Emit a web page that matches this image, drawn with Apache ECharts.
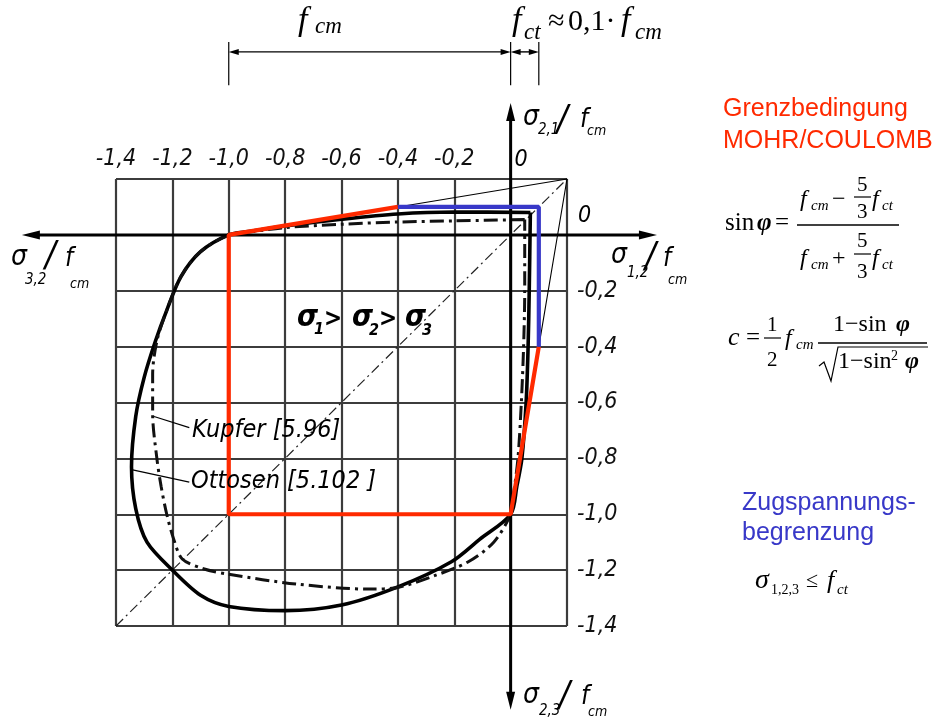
<!DOCTYPE html>
<html>
<head>
<meta charset="utf-8">
<script src="https://cdn.jsdelivr.net/npm/echarts@6/dist/echarts.min.js"></script>
<style>
html, body { margin: 0; padding: 0; background: #fff; }
#c { width: 946px; height: 720px; }
</style>
</head>
<body>
<div id="c"></div>
<script>
// Achsenbereich sigma / fcm
const tickMin = -1.4
const tickMax = 0.2
const tickStep = 0.2

// Ottosen [5.102] (durchgezogen)
const ottosen = [
  [0.07, 0.08], [-0.2, 0.082], [-0.4, 0.075], [-0.6, 0.056], [-0.8, 0.032], [-0.93, 0.012], [-1.0, 0],
  [-1.1, -0.06], [-1.17, -0.15], [-1.22, -0.27], [-1.26, -0.38], [-1.3, -0.51], [-1.33, -0.65], [-1.345, -0.83],
  [-1.33, -0.98], [-1.29, -1.1], [-1.2, -1.2],
  [-1.1, -1.29], [-1.0, -1.33], [-0.8, -1.345], [-0.6, -1.325], [-0.4, -1.26], [-0.21, -1.17], [-0.11, -1.09], [0, -1.0],
  [0.022, -0.9], [0.04, -0.8], [0.055, -0.6], [0.062, -0.4], [0.066, -0.2], [0.07, 0.08]
]
// Kupfer [5.96] (strichpunktiert)
const kupfer = [
  [0.05, 0.055], [-0.2, 0.05], [-0.4, 0.046], [-0.6, 0.038], [-0.8, 0.026], [-0.93, 0.01], [-1.0, 0],
  [-1.1, -0.06], [-1.17, -0.15], [-1.22, -0.27], [-1.255, -0.38], [-1.27, -0.5], [-1.27, -0.64], [-1.255, -0.8],
  [-1.24, -0.9], [-1.22, -1.0], [-1.195, -1.09], [-1.165, -1.16],
  [-1.09, -1.195], [-1.0, -1.215], [-0.76, -1.25], [-0.5, -1.268], [-0.4, -1.262], [-0.27, -1.22], [-0.15, -1.17],
  [-0.06, -1.1], [0, -1.0],
  [0.01, -0.93], [0.026, -0.8], [0.038, -0.6], [0.046, -0.4], [0.05, -0.2], [0.05, 0.055]
]
// Grenzbedingung MOHR/COULOMB und Zugspannungsbegrenzung
const mohrCoulomb = [[-0.4, 0.1], [-1.0, 0], [-1.0, -1.0], [0, -1.0], [0.1, -0.4]]
const zugBegrenzung = [[0.1, -0.4], [0.1, 0.1], [-0.4, 0.1]]
const spitze = [[-0.4, 0.1], [0.2, 0.2], [0.1, -0.4]]
const diagonale = [[-1.4, -1.4], [0.2, 0.2]]
// Hauptachsen mit Pfeilspitzen an beiden Enden: [x1, y1, x2, y2]
const achsen = [
  [-1.734, 0, 0.519, 0],
  [0, 0.472, 0, -1.70]
]
// Bemassung fcm / fct
const bemY = 0.655
const bemassung = [
  [-1.0, bemY, 0, bemY],
  [0, bemY, 0.1, bemY]
]
const bemX = [-1.0, 0, 0.1]
const bemTick = [0.536, 0.69]
// Hinweislinien
const leaderKupfer = [[-1.265, -0.65], [-1.14, -0.69]]
const leaderOttosen = [[-1.345, -0.84], [-1.14, -0.885]]

const SERIF = "'Liberation Serif','Times New Roman',serif"
const SANS = "'Liberation Sans',Arial,sans-serif"
const FIG = "'Liberation Sans Narrow','DejaVu Sans Condensed','DejaVu Sans',sans-serif"
const RED = '#ff2a00'
const BLUE = '#3838c8'

function seg(data, color, width, type, z, smooth) {
  return {
    type: 'line', data, symbol: 'none', showSymbol: false, clip: false, silent: true,
    smooth: smooth || false, z: z || 3, lineStyle: { color, width, type: type || 'solid' }
  }
}
// Doppelpfeil-Linien (auch ausserhalb des Rasters)
function pfeile(rows, width, len, hw) {
  return {
    type: 'custom', silent: true, z: 4, clip: false, data: rows,
    encode: { x: [0, 2], y: [1, 3] },
    renderItem(params, api) {
      const a = api.coord([api.value(0), api.value(1)])
      const b = api.coord([api.value(2), api.value(3)])
      const dx = b[0] - a[0], dy = b[1] - a[1]
      const d = Math.hypot(dx, dy)
      const ux = dx / d, uy = dy / d
      const head = (p, sx, sy) => ({
        type: 'polygon',
        shape: { points: [p, [p[0] + sx * len - sy * hw, p[1] + sy * len + sx * hw], [p[0] + sx * len + sy * hw, p[1] + sy * len - sx * hw]] },
        style: { fill: '#000' }
      })
      return {
        type: 'group',
        children: [
          {
            type: 'line',
            shape: { x1: a[0] + ux * len * 0.6, y1: a[1] + uy * len * 0.6, x2: b[0] - ux * len * 0.6, y2: b[1] - uy * len * 0.6 },
            style: { stroke: '#000', lineWidth: width }
          },
          head(a, ux, uy),
          head(b, -ux, -uy)
        ]
      }
    }
  }
}
// Text nach Grundlinie
function B(x, base, text, size, o) {
  o = o || {}
  return {
    type: 'text', x, y: base - 0.34 * size, silent: true, z: 100,
    style: {
      text, fontSize: size, fontFamily: o.ff || SERIF,
      fontStyle: o.it ? 'italic' : 'normal', fontWeight: o.b ? 'bold' : 'normal',
      fill: o.c || '#000', align: o.al || 'left', verticalAlign: 'middle'
    }
  }
}
function P(points, w) {
  return { type: 'polyline', silent: true, z: 100, shape: { points }, style: { stroke: '#000', lineWidth: w || 1.3, fill: 'none' } }
}
function tickFmt(v) {
  if (v > tickMax - tickStep / 2 || Math.abs(v) < 1e-6) return ''
  return v.toFixed(1).replace('.', ',')
}
const axisCommon = {
  type: 'value', min: tickMin, max: tickMax, interval: tickStep,
  axisLine: { show: false, onZero: false }, axisTick: { show: false },
  splitLine: { show: true, lineStyle: { color: '#3c3c3c', width: 2.2 } },
  axisLabel: { formatter: tickFmt, fontSize: 23, fontStyle: 'italic', fontFamily: FIG, color: '#111' }
}

const chart = echarts.init(document.getElementById('c'), null, { renderer: 'canvas' })

const series = [
  seg(ottosen, '#000', 3.6, 'solid', 3, 0.3),
  seg(kupfer, '#111', 3, [14, 5, 3, 5], 3, 0.3),
  seg(diagonale, '#222', 1.2, [10, 4, 2, 4], 2),
  seg(spitze, '#000', 1.1, 'solid', 2),
  seg(mohrCoulomb, RED, 4.2, 'solid', 6),
  seg(zugBegrenzung, BLUE, 4.2, 'solid', 6),
  pfeile(achsen, 3, 18, 4.5),
  pfeile(bemassung, 1.4, 10, 3),
  seg(leaderKupfer, '#000', 1.2),
  seg(leaderOttosen, '#000', 1.2)
]
bemX.forEach(x => series.push(seg([[x, bemTick[0]], [x, bemTick[1]]], '#000', 1.2)))

const it = { ff: FIG, it: 1 }
const itb = { ff: FIG, it: 1, b: 1 }
const texte = [
  // Bemassung oben
  B(298, 33, 'f', 34, { it: 1 }), B(315, 35, 'cm', 23, { it: 1 }),
  B(512, 33, 'f', 34, { it: 1 }), B(524, 41, 'ct', 23, { it: 1 }),
  B(548, 32, '\u2248', 30), B(568, 32, '0,1\u00b7', 30),
  B(621, 33, 'f', 34, { it: 1 }), B(635, 41, 'cm', 23, { it: 1 }),
  // Achsenbeschriftungen
  B(521, 168, '0', 23, Object.assign({ al: 'center' }, it)),
  B(578, 224, '0', 23, it),
  B(523, 127, '\u03c3', 28, it), B(538, 135, '2,1', 15, it),
  B(557, 133, '/', 36, it), B(580, 129, 'f', 26, it), B(587, 136, 'cm', 14, it),
  B(11, 267, '\u03c3', 28, it), B(25, 285, '3,2', 15, it),
  B(45, 269, '/', 36, it), B(65, 268, 'f', 26, it), B(70, 289, 'cm', 14, it),
  B(611, 265, '\u03c3', 28, it), B(627, 278, '1,2', 15, it),
  B(645, 270, '/', 36, it), B(663, 268, 'f', 26, it), B(668, 285, 'cm', 14, it),
  B(523, 705, '\u03c3', 28, it), B(539, 716, '2,3', 15, it),
  B(559, 709, '/', 36, it), B(581, 706, 'f', 26, it), B(588, 717, 'cm', 14, it),
  // sigma1 > sigma2 > sigma3
  B(297, 328, '\u03c3', 30, itb), B(314, 335, '1', 16, itb), B(324, 328, '>', 24, itb),
  B(352, 328, '\u03c3', 30, itb), B(369, 336, '2', 16, itb), B(379, 328, '>', 24, itb),
  B(405, 328, '\u03c3', 30, itb), B(422, 336, '3', 16, itb),
  // Kurvenbezeichnungen
  B(192, 439, 'Kupfer [5.96]', 25, it),
  B(191, 490, 'Ottosen [5.102 ]', 25, it),
  // rechte Spalte
  B(723, 118, 'Grenzbedingung', 25, { ff: SANS, c: RED }),
  B(723, 150, 'MOHR/COULOMB', 25, { ff: SANS, c: RED }),
  B(725, 232, 'sin', 25), B(757, 232, '\u03c6', 25, { it: 1, b: 1 }), B(775, 232, '=', 25),
  B(800, 208, 'f', 24, { it: 1 }), B(811, 211, 'cm', 15, { it: 1 }), B(832, 208, '\u2212', 24),
  B(857, 193, '5', 21), B(857, 220, '3', 21), B(872, 208, 'f', 24, { it: 1 }), B(882, 211, 'ct', 15, { it: 1 }),
  B(800, 267, 'f', 24, { it: 1 }), B(811, 270, 'cm', 15, { it: 1 }), B(832, 267, '+', 24),
  B(857, 249, '5', 21), B(857, 280, '3', 21), B(872, 267, 'f', 24, { it: 1 }), B(882, 270, 'ct', 15, { it: 1 }),
  P([[797, 225], [899, 225]], 1.4), P([[854, 197], [871, 197]], 1.2), P([[854, 254], [871, 254]], 1.2),
  B(728, 347, 'c', 26, { it: 1 }), B(746, 347, '=', 25),
  B(767, 333, '1', 21), B(767, 368, '2', 21), P([[764, 338], [781, 338]], 1.2),
  B(785, 347, 'f', 24, { it: 1 }), B(796, 350, 'cm', 15, { it: 1 }),
  B(833, 333, '1\u2212sin', 24), B(896, 333, '\u03c6', 24, { it: 1, b: 1 }),
  P([[818, 343], [927, 343]], 1.3),
  P([[819, 366], [824, 362], [831, 381], [838, 347], [928, 347]], 1.2),
  B(838, 370, '1\u2212sin', 24), B(891, 361, '2', 14), B(905, 370, '\u03c6', 24, { it: 1, b: 1 }),
  B(742, 512, 'Zugspannungs-', 25, { ff: SANS, c: BLUE }),
  B(742, 542, 'begrenzung', 25, { ff: SANS, c: BLUE }),
  B(755, 590, '\u03c3', 28, { it: 1 }), B(771, 595, '1,2,3', 14), B(806, 589, '\u2264', 22),
  B(827, 590, 'f', 26, { it: 1 }), B(837, 595, 'ct', 15, { it: 1 })
]

const option = {
  backgroundColor: '#fff',
  animation: false,
  grid: { left: 116, right: 379, top: 179, bottom: 94, containLabel: false, outerBoundsMode: 'none' },
  xAxis: Object.assign({}, axisCommon, {
    position: 'top',
    axisLabel: Object.assign({}, axisCommon.axisLabel, { margin: 8 })
  }),
  yAxis: Object.assign({}, axisCommon, {
    position: 'right',
    axisLabel: Object.assign({}, axisCommon.axisLabel, { margin: 10 })
  }),
  series,
  graphic: texte
}
chart.setOption(option)
</script>
</body>
</html>
